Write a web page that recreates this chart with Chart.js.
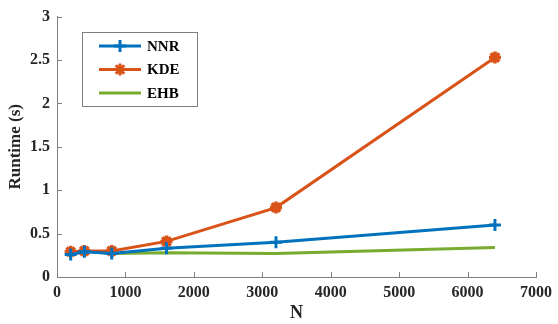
<!DOCTYPE html>
<html>
<head>
<meta charset="utf-8">
<script src="https://cdn.jsdelivr.net/npm/chart.js@4.4.1/dist/chart.umd.min.js"></script>
<style>
  html, body { margin: 0; padding: 0; background: #fff; }
  #wrap { width: 558px; height: 324px; }
</style>
</head>
<body>
<div id="wrap"><canvas id="myChart" width="558" height="324"></canvas></div>
<script>
// data
var nValues = [200, 400, 800, 1600, 3200, 6400];
var nnr = [0.26, 0.29, 0.27, 0.33, 0.40, 0.60];
var kde = [0.29, 0.30, 0.30, 0.41, 0.80, 2.53];
var ehb = [0.28, 0.30, 0.27, 0.28, 0.27, 0.34];
var seriesNames = ["NNR", "KDE", "EHB"];

var axisGray = "#7f7f7f";
var serif = "'Liberation Serif', 'Times New Roman', serif";

function pts(ys){
  var out = [];
  for (var i = 0; i < nValues.length; i++) out.push({x: nValues[i], y: ys[i]});
  return out;
}

// matlab-ish inward ticks + legend box in the upper left
var matlabBits = {
  id: "matlabBits",
  afterDraw: function(chart){
    var ctx = chart.ctx;
    var xs = chart.scales.x, ys = chart.scales.y;
    ctx.save();
    ctx.strokeStyle = axisGray;
    ctx.lineWidth = 1;
    xs.ticks.forEach(function(t){
      var px = Math.round(xs.getPixelForValue(t.value)) + 0.5;
      ctx.beginPath();
      ctx.moveTo(px, ys.bottom);
      ctx.lineTo(px, ys.bottom - 5);
      ctx.stroke();
    });
    ys.ticks.forEach(function(t){
      var py = Math.round(ys.getPixelForValue(t.value)) + 0.5;
      ctx.beginPath();
      ctx.moveTo(xs.left, py);
      ctx.lineTo(xs.left + 5, py);
      ctx.stroke();
    });

    // legend
    var bx = 82.5, by = 32.5, bw = 115, bh = 74;
    ctx.fillStyle = "#fff";
    ctx.fillRect(bx, by, bw, bh);
    ctx.strokeStyle = axisGray;
    ctx.strokeRect(bx, by, bw, bh);
    ctx.font = "bold 15px " + serif;
    ctx.textBaseline = "middle";
    chart.data.datasets.forEach(function(ds, i){
      var ry = 46 + i * 23.5;
      ctx.strokeStyle = ds.borderColor;
      ctx.lineWidth = 3;
      ctx.beginPath();
      ctx.moveTo(99, ry);
      ctx.lineTo(141, ry);
      ctx.stroke();
      if (ds.pointStyle !== false && ds.pointRadius > 0) {
        Chart.helpers.drawPoint(ctx, {
          pointStyle: ds.pointStyle,
          radius: ds.pointRadius,
          borderWidth: ds.pointBorderWidth,
          rotation: 0
        }, 120, ry);
      }
      ctx.fillStyle = "#000";
      ctx.textAlign = "left";
      ctx.fillText(ds.label, 147, ry + 1);
    });
    ctx.restore();
  }
};

var ctx = document.getElementById("myChart");

var chart = new Chart(ctx, {
  type: "scatter",
  data: {
    datasets: [{
      label: seriesNames[0],
      data: pts(nnr),
      showLine: true,
      borderColor: "#0072BD",
      backgroundColor: "#0072BD",
      borderWidth: 3,
      pointStyle: "cross",
      pointRadius: 6,
      pointBorderWidth: 3
    }, {
      label: seriesNames[1],
      data: pts(kde),
      showLine: true,
      borderColor: "#D95319",
      backgroundColor: "#D95319",
      borderWidth: 3,
      pointStyle: "star",
      pointRadius: 6,
      pointBorderWidth: 3.5
    }, {
      label: seriesNames[2],
      data: pts(ehb),
      showLine: true,
      borderColor: "#77AC30",
      backgroundColor: "#77AC30",
      borderWidth: 3,
      pointRadius: 0,
      pointStyle: false
    }]
  },
  options: {
    responsive: false,
    animation: false,
    layout: { padding: { top: 16, right: 14, left: 0, bottom: 0 } },
    plugins: {
      legend: { display: false },
      tooltip: { enabled: false }
    },
    scales: {
      x: {
        type: "linear",
        min: 0, max: 7000,
        afterFit: function(s){ s.height = 47; },
        grid: { display: true, drawOnChartArea: false, drawTicks: false },
        border: { display: true, color: axisGray, width: 1 },
        ticks: {
          stepSize: 1000,
          padding: 6,
          color: "#262626",
          font: { family: serif, size: 16, weight: "bold" },
          maxRotation: 0,
          callback: function(v){ return String(v); }
        },
        title: {
          display: true,
          text: "N",
          color: "#262626",
          padding: { top: 0, bottom: 0 },
          font: { family: serif, size: 18, weight: "bold" }
        }
      },
      y: {
        type: "linear",
        min: 0, max: 3,
        afterFit: function(s){ s.width = 57; },
        grid: { display: true, drawOnChartArea: false, drawTicks: false },
        border: { display: true, color: axisGray, width: 1 },
        ticks: {
          stepSize: 0.5,
          padding: 7,
          color: "#262626",
          font: { family: serif, size: 16, weight: "bold" },
          callback: function(v){ return String(v); }
        },
        title: {
          display: true,
          text: "Runtime (s)",
          color: "#262626",
          padding: { top: 5, bottom: 0 },
          font: { family: serif, size: 17, weight: "bold" }
        }
      }
    }
  },
  plugins: [matlabBits]
});
</script>
</body>
</html>
